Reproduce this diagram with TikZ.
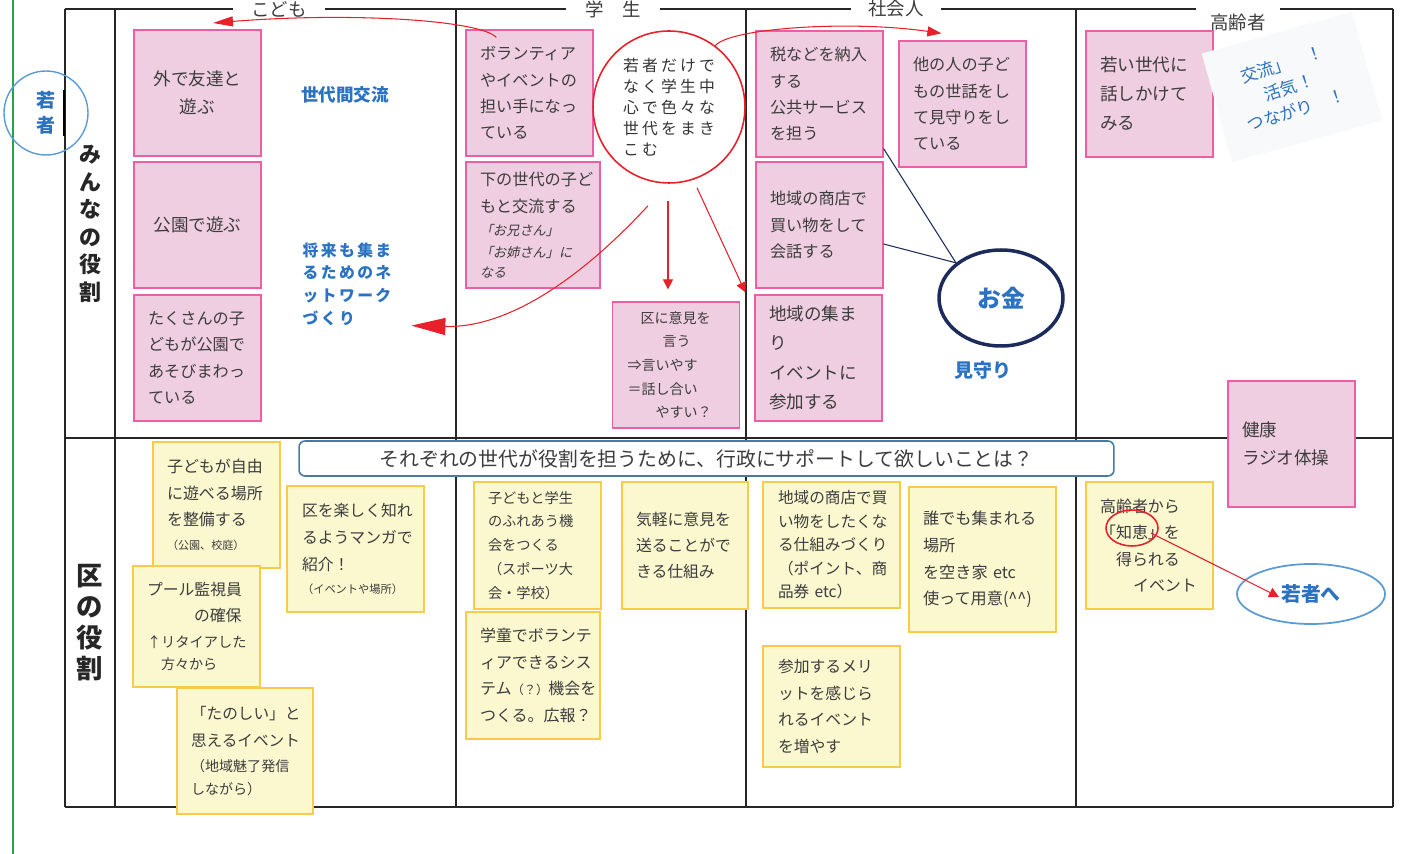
\documentclass[tikz,border=0pt]{standalone}
\usepackage{fontspec}
\setmainfont{Noto Sans CJK JP}
\newfontfamily\slantjp{Noto Sans CJK JP}[FakeSlant=0.2]
\newfontfamily\widejp{Noto Sans CJK JP}[LetterSpace=20]
\newfontfamily\netjp{Noto Sans CJK JP}[LetterSpace=15]
\usetikzlibrary{arrows.meta,shapes.geometric,calc}

\definecolor{ink}{HTML}{3C3C3C}
\definecolor{pinkfill}{HTML}{EFCEE1}
\definecolor{pinkline}{HTML}{EC5FA4}
\definecolor{yelfill}{HTML}{FBF8D0}
\definecolor{yelline}{HTML}{F8CB4A}
\definecolor{markred}{HTML}{E8202A}
\definecolor{talkblue}{HTML}{2B72C2}
\definecolor{ringblue}{HTML}{5B9BD5}
\definecolor{navy}{HTML}{1C2A5C}
\definecolor{edgegreen}{HTML}{22A84A}
\definecolor{askline}{HTML}{4A78A8}
\definecolor{notegray}{HTML}{F8F9FB}

\newcommand\fsz[2]{\fontsize{#1}{#2}\selectfont}

\begin{document}
\begin{tikzpicture}[x=0.02cm, y=-0.02cm,
	tableline/.style={draw=black!85, line width=0.6pt},
	colhead/.style={minimum height=0.4cm, inner sep=0pt, font=\fsz{10.5}{12}, text=ink},
	rowhead/.style={align=center, inner sep=0pt, text=black!85},
	card/.style={line width=0.7pt, minimum width=2.54cm, minimum height=2.52cm, inner xsep=0.28cm, inner ysep=2pt, text width=1.98cm, align=left, text=ink, font=\fsz{9.2}{15}},
	pinkbox/.style={card, draw=pinkline, fill=pinkfill},
	yelbox/.style={card, draw=yelline, fill=yelfill},
	talk/.style={text=talkblue, inner sep=1pt},
	redline/.style={draw=markred, line width=0.6pt},
	redtip/.style 2 args={-{Triangle[length=#1, width=#2]}}]

	\useasboundingbox (0,0) rectangle (1403,854);

	\draw[draw=edgegreen, line width=1.2pt] (13,0) -- (13,854);

	\node[colhead, minimum width=1.84cm] (kodomo) at (279,9) {こども};
	\node[colhead, minimum width=1.88cm] (gakusei) at (613,9) {学　生};
	\node[colhead, minimum width=1.80cm] (shakai) at (896,9) {社会人};
	\node[colhead, minimum width=1.68cm, minimum height=0.56cm] (elder) at (1238,22) {高齢者};

	\draw[tableline] (65,9) -- (kodomo.west);
	\draw[tableline] (kodomo.east) -- (gakusei.west);
	\draw[tableline] (gakusei.east) -- (shakai.west);
	\draw[tableline] (shakai.east) -- (elder.west |- shakai.east);
	\draw[tableline] (elder.east |- shakai.east) -- (1393,9);
	\draw[tableline] (65,9) -- (65,807);
	\draw[tableline] (115,9) -- (115,807);
	\draw[tableline] (456,9) -- (456,807);
	\draw[tableline] (746,9) -- (746,807);
	\draw[tableline] (1076,9) -- (1076,807);
	\draw[tableline] (1393,9) -- (1393,807);
	\draw[tableline] (65,438) -- (1393,438);
	\draw[tableline, line width=1.1pt] (65,807) -- (1393,807);
	\draw[line width=1.3pt] (64,90) -- (64,136);

	\node[rowhead, font=\fsz{12.5}{15.7}\bfseries] (everyone) at (90,224) {み\\ん\\な\\の\\役\\割};
	\node[rowhead, font=\fsz{15}{17.6}\bfseries] (ward) at (90,623) {区\\の\\役\\割};
	\node[circle, draw=ringblue, line width=0.8pt, minimum size=1.68cm, talk, align=center, font=\fsz{10.8}{14}\bfseries] (youth) at (46,113) {若\\者};

	\node[pinkbox, align=center, font=\fsz{10}{16}] (outside) at (197.5,93) {外で友達と\\遊ぶ};
	\node[pinkbox, align=center, font=\fsz{10}{16}] (park) at (197.5,225) {公園で遊ぶ};
	\node[pinkbox] (runabout) at (197.5,358) {たくさんの子\\どもが公園で\\あそびまわっ\\ている};
	\node[talk, font=\fsz{10}{13}\bfseries] (crossgen) at (345,95) {世代間交流};
	\node[talk, align=left, font=\netjp\fsz{9}{12.9}\bfseries] (network) at (347,284) {将来も集ま\\るためのネ\\ットワーク\\づくり};

	\node[pinkbox] (volunteer) at (529.5,93) {ボランティア\\やイベントの\\担い手になっ\\ている};
	\node[pinkbox, minimum width=2.68cm, text width=2.12cm] (younger) at (533,225) {下の世代の子ど\\もと交流する\\[-1.4pt]{\slantjp\fsz{7.5}{9}「お兄さん」}\\[-3pt]{\slantjp\fsz{7.5}{9}「お姉さん」に}\\[-3.6pt]{\slantjp\fsz{7.5}{9}なる}};
	\node[pinkbox, text width=1.94cm, inner xsep=0.3cm, font=\fsz{8}{13.4}] (opinion) at (676,365) {\hspace*{0.26cm}区に意見を\\\hspace*{0.7cm}言う\\⇒言いやす\\＝話し合い\\\hspace*{0.56cm}やすい？};
	\node[circle, draw=markred, line width=0.9pt, minimum size=3.04cm, align=left, text=black!80, font=\widejp\fsz{9}{12}] (onlyyouth) at (669,107) {若者だけで\\なく学生中\\心で色々な\\世代をまき\\こむ};

	\node[pinkbox] (tax) at (819.5,94) {税などを納入\\する\\公共サービス\\を担う};
	\node[pinkbox] (childcare) at (962.5,104) {他の人の子ど\\もの世話をし\\て見守りをし\\ている};
	\node[pinkbox] (shop) at (819.5,225) {地域の商店で\\買い物をして\\会話する};
	\node[pinkbox, font=\fsz{10}{16.7}] (gather) at (818.5,358) {地域の集ま\\り\\イベントに\\参加する};
	\node[ellipse, draw=navy, line width=2pt, minimum width=2.48cm, minimum height=1.92cm, talk, font=\fsz{13.5}{16}\bfseries] (money) at (1001,298) {お金};
	\node[talk, font=\fsz{10.8}{13}\bfseries] (watch) at (983,370) {見守り};
	\draw[navy, line width=0.6pt] ($(tax.south east)+(0,-9)$) -- (money.north west);
	\draw[navy, line width=0.6pt] ($(shop.east)+(0,19)$) -- (money.north west);

	\node[pinkbox, font=\fsz{10}{16.5}] (talkup) at (1149.5,94) {若い世代に\\話しかけて\\みる};
	\node[fill=notegray, rotate=15.6, minimum width=3.12cm, minimum height=2.26cm] (notepad) at (1292,87) {};
	\node[talk, rotate=18, align=center, font=\fsz{9.7}{13.6}] (cheer) at (1289,87) {交流」　！\\活気！\\つながり　！};
	\node[pinkbox, font=\fsz{10}{16}] (health) at (1291.5,444) {健康\\ラジオ体操};

	\coordinate (kidtip) at (213,23);
	\draw[redline, redtip={0.4cm}{0.2cm}] ($(volunteer.north west)+(31,8)$) .. controls (480,20) and (350,12) .. (kidtip);
	\draw[redline, redtip={0.28cm}{0.2cm}] (onlyyouth.53) .. controls (730,28) and (850,20) .. ($(childcare.north west)+(43,-7)$);
	\draw[redline, redtip={0.68cm}{0.34cm}] ($(onlyyouth.south)+(-21,22)$) .. controls (570,290) and (500,328) .. ($(network.south east)+(18,-2)$);
	\draw[redline, redtip={0.2cm}{0.2cm}] ($(onlyyouth.south)+(-1,17)$) -- ($(opinion.north)+(-8,-12)$);
	\draw[redline, redtip={0.2cm}{0.2cm}] ($(onlyyouth.south)+(28,4)$) -- ($(gather.north west)+(-9,-2)$);

	\node[draw=askline, line width=0.9pt, rounded corners=0.12cm, fill=white, minimum width=16.3cm, minimum height=0.7cm, inner sep=0pt, font=\fsz{11.3}{14}, text=ink] (ask) at (706.5,458.5) {それぞれの世代が役割を担うために、行政にサポートして欲しいことは？};

	\node[yelbox, font=\fsz{9.1}{15}] (freeplace) at (216.5,505) {子どもが自由\\に遊べる場所\\を整備する\\[-1.4pt]{\fsz{6.3}{8}（公園、校庭）}};
	\node[yelbox, minimum height=2.42cm, font=\fsz{9}{14.8}] (pool) at (196.5,626.5) {プール監視員\\\hspace*{0.94cm}の確保\\{\fsz{8.1}{10}↑リタイアした}\\[-2.5pt]\hspace*{0.28cm}{\fsz{8}{10}方々から}};
	\node[yelbox, minimum width=2.72cm, text width=2.16cm, font=\fsz{8.9}{15.4}] (funevent) at (245,751) {「たのしい」と\\思えるイベント\\[-1.1pt]{\fsz{8}{10}（地域魅了発信}\\[-2.2pt]{\fsz{8}{10}しながら）}};
	\node[yelbox, minimum width=2.74cm, text width=2.14cm, inner xsep=0.3cm, font=\fsz{9}{15.4}] (manga) at (355.5,549) {区を楽しく知れ\\るようマンガで\\紹介！\\[-2pt]{\fsz{6.4}{8}（イベントや場所）}};

	\node[yelbox, minimum height=2.54cm, font=\fsz{8.1}{13.6}] (contact) at (537.5,545.5) {子どもと学生\\のふれあう機\\会をつくる\\（スポーツ大\\会・学校）};
	\node[yelbox, minimum width=2.68cm, minimum height=2.54cm, text width=2.12cm, font=\fsz{9.1}{15.2}] (afterschool) at (533,675.5) {学童でボランテ\\ィアできるシス\\テム{\fsz{7}{8}（？）}機会を\\つくる。広報？};
	\node[yelbox, minimum width=2.52cm, minimum height=2.54cm, text width=1.96cm, font=\fsz{9}{15}] (easyvoice) at (685,545.5) {気軽に意見を\\送ることがで\\きる仕組み};

	\node[yelbox, minimum width=2.74cm, text width=2.14cm, inner xsep=0.3cm, font=\fsz{8.9}{13.4}] (shopplan) at (831.5,545) {地域の商店で買\\い物をしたくな\\る仕組みづくり\\（ポイント、商\\品券 etc）};
	\node[yelbox, minimum width=2.94cm, minimum height=2.9cm, text width=2.38cm, font=\fsz{9.2}{15.2}] (openhouse) at (982.5,559.5) {誰でも集まれる\\場所\\を空き家 etc\\使って用意(\textasciicircum\textasciicircum)};
	\node[yelbox, minimum width=2.74cm, minimum height=2.42cm, text width=2.14cm, inner xsep=0.3cm, font=\fsz{9}{15}] (merit) at (831.5,706.5) {参加するメリ\\ットを感じら\\れるイベント\\を増やす};

	\node[yelbox, minimum height=2.54cm, font=\fsz{9.1}{15}] (wisdom) at (1149.5,545.5) {高齢者から\\「知恵」を\\\hspace*{0.32cm}得られる\\\hspace*{0.66cm}イベント};
	\node[ellipse, draw=markred, line width=0.9pt, minimum width=1.04cm, minimum height=0.72cm] (chie) at (1132,528) {};
	\node[ellipse, draw=ringblue, line width=1pt, minimum width=2.96cm, minimum height=1.2cm, talk, font=\fsz{11.3}{14}\bfseries] (toyoung) at (1311,594) {若者へ};
	\draw[redline, redtip={0.2cm}{0.2cm}] ($(chie.east)+(-8,5)$) -- ($(toyoung.center)+(-32,3)$);

\end{tikzpicture}
\end{document}
